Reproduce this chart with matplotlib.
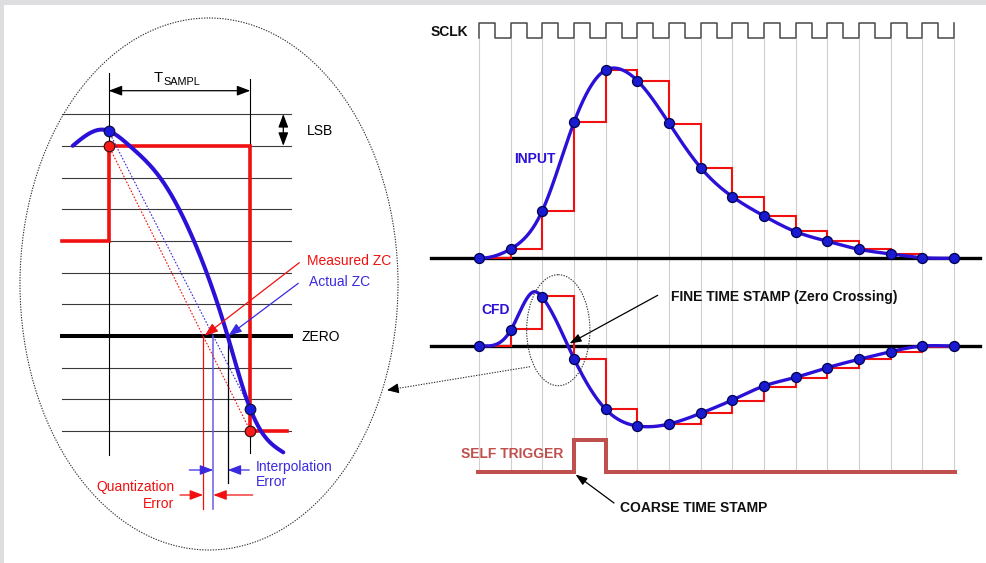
import numpy as np
import matplotlib
matplotlib.use("Agg")
import matplotlib.pyplot as plt
from matplotlib.patches import Ellipse, Rectangle

plt.rcParams['font.family'] = ['Liberation Sans', 'DejaVu Sans']

# ---------------- data (right panel, 16 clock samples) ----------------
n_samples = 16
input_amp = [0, 9.3, 47.6, 136, 188.3, 177.6, 135, 90.6, 61.6, 42.3, 26.6, 17, 9, 4.3, 0.6, 0]
input_held = [0, 9.3, 47.6, 136.6, 188.3, 177.6, 134.3, 90, 61.6, 42.3, 27.3, 17.3, 9.3, 4.3, 0.6]
input_peak = (4.35, 190.0)          # (sample index, amplitude) of the continuous pulse peak

cfd_amp = [0, 15.7, 48.7, -12.7, -63.3, -80, -78, -67.3, -54, -40, -31.3, -21.7, -13.3, -5.7, 0, 0]
cfd_held = [0, 17, 50, -12.7, -63.3, -80, -78, -67.3, -54.7, -41.3, -31.7, -22, -13.3, -5.7, -0.7]
cfd_peak = (1.75, 54.3)

trigger_start, trigger_end = 3, 4   # self-trigger pulse between these clock samples

# ---------------- data (left zoom panel, units: T_SAMPL and LSB) ----------------
zoom_levels = [7, 6, 5, 4, 3, 2, 1, 0, -1, -2, -3]
zoom_curve_t = [-0.254, -0.04, 0.150, 0.362, 0.602, 0.840, 0.975, 1.076, 1.233]
zoom_curve_v = [6.0, 6.51, 5.99, 5.0, 3.0, 0.0, -2.0, -3.0, -3.67]
zoom_sample_t = [0, 1]
zoom_sample_v = [6.46, -2.29]
zoom_quant_v = [6, -3]
zoom_prev_level = 3

# ---------------- layout (pixel space) ----------------
X0, DX = 479.0, 31.67
IN_BASE, CFD_BASE = 258.3, 346.0
ZX0, ZT = 108.7, 141.6
ZY0, ZL = 336.0, 31.7

def sx(i):
    return X0 + np.asarray(i, float) * DX

def zx(t):
    return ZX0 + np.asarray(t, float) * ZT

def zy(v):
    return ZY0 - np.asarray(v, float) * ZL

def cubic_spline(x, y, xs, d0=None, dn=None):
    x = np.asarray(x, float); y = np.asarray(y, float)
    n = len(x); h = np.diff(x)
    A = np.zeros((n, n)); b = np.zeros(n)
    if d0 is None:
        A[0, 0] = 1.0
    else:
        A[0, 0] = 2 * h[0]; A[0, 1] = h[0]
        b[0] = 3 * ((y[1] - y[0]) / h[0] - d0)
    if dn is None:
        A[-1, -1] = 1.0
    else:
        A[-1, -2] = h[-1]; A[-1, -1] = 2 * h[-1]
        b[-1] = 3 * (dn - (y[-1] - y[-2]) / h[-1])
    for i in range(1, n - 1):
        A[i, i - 1] = h[i - 1]; A[i, i] = 2 * (h[i - 1] + h[i]); A[i, i + 1] = h[i]
        b[i] = 3 * ((y[i + 1] - y[i]) / h[i] - (y[i] - y[i - 1]) / h[i - 1])
    c = np.linalg.solve(A, b)
    bb = (y[1:] - y[:-1]) / h - h * (2 * c[:-1] + c[1:]) / 3
    d = (c[1:] - c[:-1]) / (3 * h)
    xs = np.asarray(xs, float)
    k = np.clip(np.searchsorted(x, xs) - 1, 0, n - 2)
    dx = xs - x[k]
    return y[k] + bb[k] * dx + c[k] * dx ** 2 + d[k] * dx ** 3

BLUE = '#2b10d8'
PT_FACE = '#1a1ad0'
PT_EDGE = '#000050'
RED = '#f01010'
TRIG = '#c0504d'
GRID = '#cfcfcf'

fig = plt.figure(figsize=(9.86, 5.63), dpi=100, facecolor='#dedee0')
ax = fig.add_axes([0, 0, 1, 1])
ax.set_xlim(0, 986)
ax.set_ylim(563, 0)
ax.axis('off')
ax.add_patch(Rectangle((4, 5), 986, 563, fc='white', ec='none', zorder=0))

# ================= RIGHT PANEL =================
idx = np.arange(n_samples)
for i in idx:
    ax.plot([sx(i), sx(i)], [38.5, 471.5], color=GRID, lw=0.8, zorder=1)

# SCLK
HI, LO = 22.7, 38.3
cx, cy = [sx(0), sx(0)], [LO, HI]
for i in range(n_samples - 1):
    m, b = sx(i + 0.5), sx(i + 1)
    cx += [m, m, b, b]
    cy += [HI, LO, LO, HI]
ax.plot(cx, cy, color='#484848', lw=1.1, zorder=3)
ax.text(430.7, 36, 'SCLK', fontsize=10, fontweight='bold', color='#111111', va='baseline', ha='left')

# baselines
ax.plot([431, 980], [IN_BASE, IN_BASE], color='black', lw=2.4, zorder=2)
ax.plot([431, 980], [CFD_BASE, CFD_BASE], color='black', lw=2.4, zorder=2)

def draw_signal(amp, held, peak, base):
    xs, ys = [], []
    for i, h in enumerate(held):
        xs += [sx(i), sx(i + 1)]
        ys += [base - h, base - h]
    ax.plot(xs, ys, color=RED, lw=1.5, zorder=4, solid_joinstyle='miter')
    kx = list(idx.astype(float)) + [peak[0]]
    ky = list(amp) + [peak[1]]
    order = np.argsort(kx)
    kx = np.array(kx)[order]
    ky = np.array(ky)[order]
    fine = np.linspace(kx[0], kx[-1], 800)
    curve = cubic_spline(kx, ky, fine, d0=0.0, dn=0.0)
    ax.plot(sx(fine), base - curve, color=BLUE, lw=2.4, zorder=5, solid_capstyle='round')
    ax.plot(sx(idx), base - np.array(amp), 'o', ms=7.2, mfc=PT_FACE, mec=PT_EDGE, mew=0.9, zorder=6)

draw_signal(input_amp, input_held, input_peak, IN_BASE)
draw_signal(cfd_amp, cfd_held, cfd_peak, CFD_BASE)

ax.text(514, 163.3, 'INPUT', fontsize=10, fontweight='bold', color=BLUE, va='baseline', ha='left')
ax.text(481, 314, 'CFD', fontsize=10, fontweight='bold', color=BLUE, va='baseline', ha='left')

# self trigger
TB, TT = 471.7, 440.0
ax.plot([sx(-0.03), sx(trigger_start), sx(trigger_start), sx(trigger_end), sx(trigger_end), sx(15.02)],
        [TB, TB, TT, TT, TB, TB], color=TRIG, lw=2.9, zorder=4, solid_joinstyle='miter')
ax.text(461, 458.3, 'SELF TRIGGER', fontsize=10, fontweight='bold', color=TRIG, va='baseline', ha='left')

# coarse time stamp
ax.annotate('', xy=(575.5, 474.5), xytext=(614, 503),
            arrowprops=dict(arrowstyle='-|>,head_length=0.7,head_width=0.25', mutation_scale=10,
                            color='black', lw=0.9, shrinkA=0, shrinkB=0), zorder=7)
ax.text(619.5, 512.3, 'COARSE TIME STAMP', fontsize=10, fontweight='bold', color='#111111', va='baseline', ha='left')

# fine time stamp
ax.annotate('', xy=(569.5, 343.5), xytext=(657.7, 295.3),
            arrowprops=dict(arrowstyle='-|>,head_length=0.7,head_width=0.25', mutation_scale=10,
                            color='black', lw=0.9, shrinkA=0, shrinkB=0), zorder=7)
ax.text(670.7, 300.7, 'FINE TIME STAMP (Zero Crossing)', fontsize=10, fontweight='bold', color='#111111',
        va='baseline', ha='left')

# small dotted ellipse around the zero crossing
ax.add_patch(Ellipse((558.3, 330.2), 63.3, 111, fill=False, ec='#333333', lw=0.8, ls=(0, (1.2, 1.2)), zorder=7))
ax.plot([530, 394], [366.7, 389.0], color='#333333', lw=0.8, ls=(0, (1.2, 1.2)), zorder=7)
ax.annotate('', xy=(387, 390.2), xytext=(396, 388.7),
            arrowprops=dict(arrowstyle='-|>,head_length=0.7,head_width=0.3', mutation_scale=10,
                            color='black', lw=0.8, shrinkA=0, shrinkB=0), zorder=7)

# ================= LEFT ZOOM PANEL =================
ax.add_patch(Ellipse((209, 284), 378, 532, fill=False, ec='#333333', lw=0.8, ls=(0, (1.2, 1.2)), zorder=2))

gx0, gx1 = zx(-0.329), zx(1.287)
for v in zoom_levels:
    if v == 0:
        ax.plot([gx0, gx1], [zy(v), zy(v)], color='black', lw=2.9, zorder=3)
    else:
        ax.plot([gx0, gx1], [zy(v), zy(v)], color='#3a3a3a', lw=0.8, zorder=3)

ax.plot([zx(0), zx(0)], [73, 455], color='black', lw=0.8, zorder=3)
ax.plot([zx(1), zx(1)], [79, 453], color='black', lw=0.8, zorder=3)

# T_SAMPL
ax.annotate('', xy=(zx(0), 90.7), xytext=(zx(1), 90.7),
            arrowprops=dict(arrowstyle='<|-|>,head_length=0.8,head_width=0.3', mutation_scale=10,
                            color='black', lw=0.9, shrinkA=0, shrinkB=0), zorder=4)
ax.text(153.5, 82.5, 'T', fontsize=10.6, color='black', va='baseline', ha='left')
ax.text(163.5, 84.8, 'SAMPL', fontsize=7.8, color='black', va='baseline', ha='left')

# LSB
ax.annotate('', xy=(283.3, zy(7)), xytext=(283.3, zy(6)),
            arrowprops=dict(arrowstyle='<|-|>,head_length=0.8,head_width=0.3', mutation_scale=10,
                            color='black', lw=0.9, shrinkA=0, shrinkB=0), zorder=4)
ax.text(307, 135, 'LSB', fontsize=10, color='black', va='baseline', ha='left')
ax.text(301.7, 341, 'ZERO', fontsize=10, color='black', va='baseline', ha='left')

# quantized staircase
ax.plot([zx(-0.329), zx(0), zx(0), zx(1), zx(1), zx(1.261)],
        [zy(zoom_prev_level), zy(zoom_prev_level), zy(zoom_quant_v[0]), zy(zoom_quant_v[0]),
         zy(zoom_quant_v[1]), zy(zoom_quant_v[1])],
        color=RED, lw=2.6, zorder=5, solid_joinstyle='miter')

# interpolation (dotted) lines
ax.plot(zx(zoom_sample_t), zy(zoom_quant_v), color=RED, lw=0.8, ls=(0, (1.5, 1.5)), zorder=5)
ax.plot(zx(zoom_sample_t), zy(zoom_sample_v), color='#3a2ae0', lw=0.8, ls=(0, (1.5, 1.5)), zorder=5)

# continuous curve
tt = np.linspace(zoom_curve_t[0], zoom_curve_t[-1], 600)
vv = cubic_spline(zoom_curve_t, zoom_curve_v, tt)
ax.plot(zx(tt), zy(vv), color=BLUE, lw=2.9, zorder=6, solid_capstyle='round')

ax.plot(zx(zoom_sample_t), zy(zoom_sample_v), 'o', ms=7.6, mfc='#1a1ae0', mec='#101040', mew=0.9, zorder=7)
ax.plot(zx(zoom_sample_t), zy(zoom_quant_v), 'o', ms=7.6, mfc='#ff1a1a', mec='#401010', mew=0.9, zorder=7)

# zero-crossing times
t_meas = zoom_quant_v[0] / (zoom_quant_v[0] - zoom_quant_v[1])
t_interp = zoom_sample_v[0] / (zoom_sample_v[0] - zoom_sample_v[1])
t_true = 0.840
ax.plot([zx(t_meas), zx(t_meas)], [zy(0), 509], color=RED, lw=0.9, zorder=4)
ax.plot([zx(t_interp), zx(t_interp)], [zy(0), 509], color='#6a5ae8', lw=1.1, zorder=4)
ax.plot([zx(t_true), zx(t_true)], [zy(0), 483.3], color='black', lw=0.9, zorder=4)

ax.annotate('', xy=(zx(t_meas) + 1.5, zy(0) - 0.3), xytext=(299.3, 262.7),
            arrowprops=dict(arrowstyle='-|>,head_length=0.8,head_width=0.3', mutation_scale=10,
                            color=RED, lw=0.9, shrinkA=0, shrinkB=0), zorder=8)
ax.annotate('', xy=(zx(t_true) + 0.8, zy(0) - 0.3), xytext=(298.3, 283.3),
            arrowprops=dict(arrowstyle='-|>,head_length=0.8,head_width=0.3', mutation_scale=10,
                            color='#3a2ae0', lw=0.9, shrinkA=0, shrinkB=0), zorder=8)
ax.text(307.3, 265, 'Measured ZC', fontsize=10, color=RED, va='baseline', ha='left')
ax.text(309.3, 285.7, 'Actual ZC', fontsize=10, color='#3a2ae0', va='baseline', ha='left')

IE_Y, QE_Y = 470.0, 495.0
astyle = '-|>,head_length=0.8,head_width=0.3'
ax.annotate('', xy=(zx(t_interp), IE_Y), xytext=(189.3, IE_Y),
            arrowprops=dict(arrowstyle=astyle, mutation_scale=10, color='#3a2ae0', lw=0.9, shrinkA=0, shrinkB=0), zorder=8)
ax.annotate('', xy=(zx(t_true), IE_Y), xytext=(249.3, IE_Y),
            arrowprops=dict(arrowstyle=astyle, mutation_scale=10, color='#3a2ae0', lw=0.9, shrinkA=0, shrinkB=0), zorder=8)
ax.text(256, 470.5, 'Interpolation', fontsize=10, color='#3a2ae0', va='baseline', ha='left')
ax.text(256, 486.5, 'Error', fontsize=10, color='#3a2ae0', va='baseline', ha='left')

ax.annotate('', xy=(zx(t_meas), QE_Y), xytext=(180, QE_Y),
            arrowprops=dict(arrowstyle=astyle, mutation_scale=10, color=RED, lw=0.9, shrinkA=0, shrinkB=0), zorder=8)
ax.annotate('', xy=(zx(t_interp), QE_Y), xytext=(252.7, QE_Y),
            arrowprops=dict(arrowstyle=astyle, mutation_scale=10, color=RED, lw=0.9, shrinkA=0, shrinkB=0), zorder=8)
ax.text(174.3, 491.5, 'Quantization', fontsize=10, color=RED, va='baseline', ha='right')
ax.text(174.3, 507.8, 'Error', fontsize=10, color=RED, va='baseline', ha='right')

fig.savefig('out.png', dpi=100, facecolor=fig.get_facecolor())
